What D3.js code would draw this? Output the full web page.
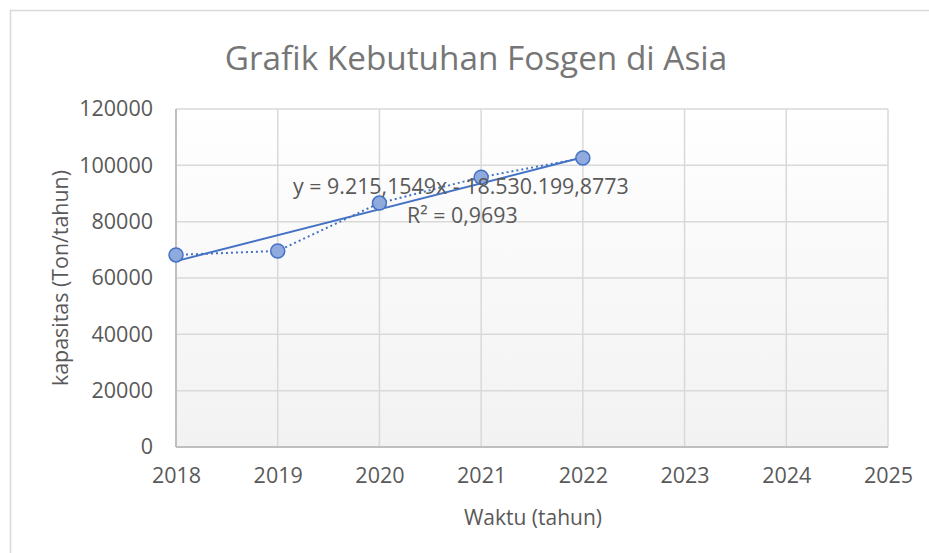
<!DOCTYPE html>
<html>
<head>
<meta charset="utf-8">
<script src="https://cdn.jsdelivr.net/npm/d3@7"></script>
<style>
  body { margin: 0; background: #fff; }
  text { font-family: "Open Sans", sans-serif; }
</style>
</head>
<body>
<script>
// data
var years = [2018, 2019, 2020, 2021, 2022];
var kapasitas = [68200, 69600, 86600, 95800, 102600];
var yTicks = [0, 20000, 40000, 60000, 80000, 100000, 120000];
var xTicks = [2018, 2019, 2020, 2021, 2022, 2023, 2024, 2025];
// trendline as printed on the chart
var trendSlope = 9215.1549;
var trendIntercept = -18530199.8773;
var eqLabel = "y = 9.215,1549x - 18.530.199,8773";
var r2Label = "R² = 0,9693";

var W = 929, H = 553;
var margin = { top: 109, right: 41, bottom: 106, left: 176 },
  width = W - margin.left - margin.right,
  height = H - margin.top - margin.bottom;

var svg = d3.select("body").append("svg")
  .attr("width", W)
  .attr("height", H);

// chart frame
svg.append("rect")
  .attr("x", 10.5).attr("y", 10.5)
  .attr("width", W + 20).attr("height", H + 20)
  .attr("fill", "#fff")
  .attr("stroke", "#d9d9d9")
  .attr("stroke-width", 1.5);

var defs = svg.append("defs");
var grad = defs.append("linearGradient")
  .attr("id", "plotbg")
  .attr("x1", 0).attr("y1", 0).attr("x2", 0).attr("y2", 1);
grad.append("stop").attr("offset", "0%").attr("stop-color", "#ffffff");
grad.append("stop").attr("offset", "100%").attr("stop-color", "#f2f2f2");

var g = svg.append("g")
  .attr("transform", `translate(${margin.left},${margin.top})`);

var x = d3.scaleLinear().domain([2018, 2025]).range([0, width]);
var y = d3.scaleLinear().domain([0, 120000]).range([height, 0]);

g.append("rect")
  .attr("width", width).attr("height", height)
  .attr("fill", "url(#plotbg)");

// gridlines
g.selectAll(".hgrid").data(yTicks).enter().append("line")
  .attr("class", "hgrid")
  .attr("x1", 0).attr("x2", width)
  .attr("y1", function (d) { return y(d); })
  .attr("y2", function (d) { return y(d); })
  .attr("stroke", "#d9d9d9").attr("stroke-width", 1.5);

g.selectAll(".vgrid").data(xTicks).enter().append("line")
  .attr("class", "vgrid")
  .attr("y1", 0).attr("y2", height)
  .attr("x1", function (d) { return x(d); })
  .attr("x2", function (d) { return x(d); })
  .attr("stroke", "#d9d9d9").attr("stroke-width", 1.5);

// axis lines
g.append("line").attr("x1", 0).attr("x2", width).attr("y1", height).attr("y2", height)
  .attr("stroke", "#bfbfbf").attr("stroke-width", 2);
g.append("line").attr("x1", 0).attr("x2", 0).attr("y1", 0).attr("y2", height)
  .attr("stroke", "#bfbfbf").attr("stroke-width", 2);

// tick labels
var xAxis = d3.axisBottom(x).tickValues(xTicks).tickFormat(d3.format("d")).tickSize(0).tickPadding(21);
var yAxis = d3.axisLeft(y).tickValues(yTicks).tickFormat(d3.format("d")).tickSize(0).tickPadding(23);

var gx = g.append("g").attr("transform", `translate(0,${height})`).call(xAxis);
var gy = g.append("g").call(yAxis);
[gx, gy].forEach(function (a) {
  a.select(".domain").remove();
  a.selectAll("text")
    .attr("fill", "#595959")
    .style("font-size", "21.5px")
    .style("font-family", "'Open Sans', sans-serif");
});

// series line (dotted)
var line = d3.line()
  .x(function (d, i) { return x(years[i]); })
  .y(function (d) { return y(d); });

g.append("path")
  .datum(kapasitas)
  .attr("d", line)
  .attr("fill", "none")
  .attr("stroke", "#4472c4")
  .attr("stroke-width", 2)
  .attr("stroke-dasharray", "2,3");

// linear trendline
var trendX = [years[0], years[years.length - 1]];
g.append("path")
  .datum(trendX)
  .attr("d", d3.line()
    .x(function (d) { return x(d); })
    .y(function (d) { return y(trendSlope * d + trendIntercept); }))
  .attr("fill", "none")
  .attr("stroke", "#4472c4")
  .attr("stroke-width", 2);

// markers
g.selectAll(".dot").data(kapasitas).enter().append("circle")
  .attr("class", "dot")
  .attr("cx", function (d, i) { return x(years[i]); })
  .attr("cy", function (d) { return y(d); })
  .attr("r", 7)
  .attr("fill", "#8faadc")
  .attr("stroke", "#4472c4")
  .attr("stroke-width", 1.5);

// trendline labels
svg.append("text")
  .attr("x", 293).attr("y", 194)
  .attr("fill", "#595959")
  .style("font-size", "21.4px")
  .text(eqLabel);
svg.append("text")
  .attr("x", 407).attr("y", 223)
  .attr("fill", "#595959")
  .style("font-size", "21.4px")
  .text(r2Label);

// title
svg.append("text")
  .attr("x", 476).attr("y", 70)
  .attr("text-anchor", "middle")
  .attr("fill", "#767676")
  .style("font-size", "33.3px")
  .text("Grafik Kebutuhan Fosgen di Asia");

// axis titles
svg.append("text")
  .attr("x", 533).attr("y", 525)
  .attr("text-anchor", "middle")
  .attr("fill", "#595959")
  .style("font-size", "21px")
  .text("Waktu (tahun)");

svg.append("text")
  .attr("transform", "translate(68,278) rotate(-90)")
  .attr("text-anchor", "middle")
  .attr("fill", "#595959")
  .style("font-size", "21.4px")
  .text("kapasitas (Ton/tahun)");
</script>
</body>
</html>
